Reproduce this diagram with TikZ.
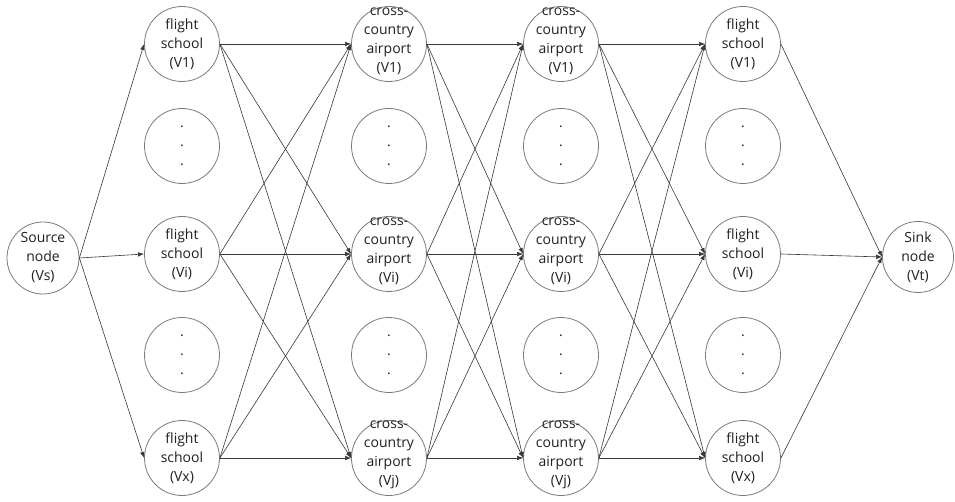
\documentclass[tikz,border=0pt]{standalone}
\usepackage{fontspec}
\setmainfont{Open Sans}
\usetikzlibrary{arrows.meta}
\definecolor{edgec}{HTML}{383838}
\definecolor{ringc}{HTML}{7A7A7A}
\definecolor{textc}{HTML}{202020}
\begin{document}
\begin{tikzpicture}[x=1pt,y=-1pt,
  vert/.style={circle,draw=ringc,line width=0.8pt,minimum size=75pt,inner sep=0pt},
  txt/.style={align=center,font=\fontsize{14}{19}\selectfont,text=textc},
  flow/.style={draw=edgec,line width=0.6pt,-{Latex[length=6pt,width=4.5pt]}}]
\useasboundingbox (0,0) rectangle (955,502);
\fill[white] (0,0) rectangle (955,502);
% column x
\def\xa{43}\def\xb{182}\def\xc{389}\def\xd{561}\def\xe{743}\def\xf{918}
\def\ya{44}\def\yb{146}\def\yc{254}\def\yd{355}\def\ye{458}
% source and sink
\node[vert,minimum size=72pt] (s) at (\xa,258) {};
\node[txt] (st) at (s.center) {Source\\node\\(Vs)};
\node[vert,minimum size=71pt] (t) at (\xf,257) {};
\node[txt] (tt) at (t.center) {Sink\\node\\(Vt)};
% column 1: flight schools
\node[vert] (a1) at (\xb,\ya) {};
\node[txt] (a1t) at (a1.center) {flight\\school\\(V1)};
\node[vert] (ad1) at (\xb,\yb) {};
\node[txt] (ad1t) at (ad1.center) {.\\.\\.};
\node[vert] (ai) at (\xb,\yc) {};
\node[txt] (ait) at (ai.center) {flight\\school\\(Vi)};
\node[vert] (ad2) at (\xb,\yd) {};
\node[txt] (ad2t) at (ad2.center) {.\\.\\.};
\node[vert] (ax) at (\xb,\ye) {};
\node[txt] (axt) at (ax.center) {flight\\school\\(Vx)};
% column 2: cross-country airports
\node[vert] (b1) at (\xc,\ya) {};
\node[txt] (b1t) at ([yshift=3pt]b1.center) {cross-\\country\\airport\\(V1)};
\node[vert] (bd1) at (\xc,\yb) {};
\node[txt] (bd1t) at (bd1.center) {.\\.\\.};
\node[vert] (bi) at (\xc,\yc) {};
\node[txt] (bit) at ([yshift=3pt]bi.center) {cross-\\country\\airport\\(Vi)};
\node[vert] (bd2) at (\xc,\yd) {};
\node[txt] (bd2t) at (bd2.center) {.\\.\\.};
\node[vert] (bj) at (\xc,\ye) {};
\node[txt] (bjt) at ([yshift=3pt]bj.center) {cross-\\country\\airport\\(Vj)};
% column 3: cross-country airports
\node[vert] (c1) at (\xd,\ya) {};
\node[txt] (c1t) at ([yshift=3pt]c1.center) {cross-\\country\\airport\\(V1)};
\node[vert] (cd1) at (\xd,\yb) {};
\node[txt] (cd1t) at (cd1.center) {.\\.\\.};
\node[vert] (ci) at (\xd,\yc) {};
\node[txt] (cit) at ([yshift=3pt]ci.center) {cross-\\country\\airport\\(Vi)};
\node[vert] (cd2) at (\xd,\yd) {};
\node[txt] (cd2t) at (cd2.center) {.\\.\\.};
\node[vert] (cj) at (\xd,\ye) {};
\node[txt] (cjt) at ([yshift=3pt]cj.center) {cross-\\country\\airport\\(Vj)};
% column 4: flight schools
\node[vert] (d1) at (\xe,\ya) {};
\node[txt] (d1t) at (d1.center) {flight\\school\\(V1)};
\node[vert] (dd1) at (\xe,\yb) {};
\node[txt] (dd1t) at (dd1.center) {.\\.\\.};
\node[vert] (di) at (\xe,\yc) {};
\node[txt] (dit) at (di.center) {flight\\school\\(Vi)};
\node[vert] (dd2) at (\xe,\yd) {};
\node[txt] (dd2t) at (dd2.center) {.\\.\\.};
\node[vert] (dx) at (\xe,\ye) {};
\node[txt] (dxt) at (dx.center) {flight\\school\\(Vx)};
% edges
\foreach \v in {a1,ai,ax} \draw[flow] (s.east) -- (\v.west);
\foreach \u in {a1,ai,ax} \foreach \v in {b1,bi,bj} \draw[flow] (\u.east) -- (\v.west);
\foreach \u in {b1,bi,bj} \foreach \v in {c1,ci,cj} \draw[flow] (\u.east) -- (\v.west);
\foreach \u in {c1,ci,cj} \foreach \v in {d1,di,dx} \draw[flow] (\u.east) -- (\v.west);
\foreach \u in {d1,di,dx} \draw[flow] (\u.east) -- (t.west);
\end{tikzpicture}
\end{document}
